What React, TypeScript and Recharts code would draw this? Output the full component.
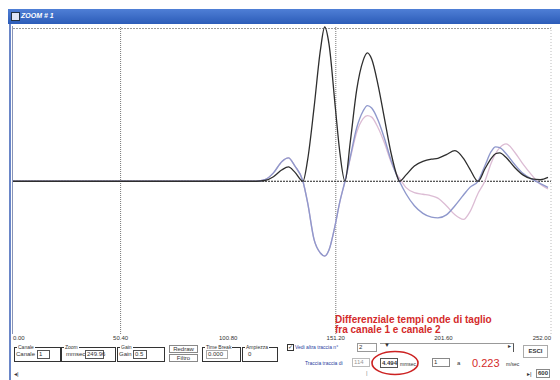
import React from 'react';
import { LineChart, Line, XAxis, YAxis, ReferenceLine } from 'recharts';

// time in ms, amplitudes in % of full scale
const time = [0, 100, 114, 118, 122, 126, 129, 132, 135.8, 138, 141, 144, 146, 148, 151, 153, 155.5, 158, 161, 164, 166, 168, 171, 174, 177, 180, 181, 184, 188, 192, 196, 199, 203, 207, 211, 214, 217.8, 221, 224, 226, 228, 231, 235, 239, 243, 247, 250.6];
const differenziale = [0, 0, 0, 0.5, 3, 7.5, 9.4, 6, 0, 14, 48, 86, 101, 90, 48, 20, 0, 26, 60, 79, 84, 80, 63, 41, 19, 3, 0, 4, 10, 13, 14.5, 15, 17.5, 20, 15, 8, 0, 8, 15, 18, 18.6, 15.5, 9, 4, 1.5, 1, 2.5];
const canale1 = [0, 0, 0, 1, 5.5, 13, 15.3, 10, 0, -14, -38, -47, -49, -45, -28, -14, 0, 16, 35, 46, 49.5, 48, 40, 28, 14, 3, 0, -8, -16, -21, -23.5, -24, -22, -16, -9, -4, 0, 10, 19.5, 22.5, 22, 18, 11, 5, 1.5, -1.5, -4];
const canale2 = [0, 0, 0, 1, 5.5, 13, 15.3, 10, 0, -14, -38, -47, -49, -45, -28, -14, 0, 15, 32, 41, 43, 42, 35, 25, 13, 4, 2, -4, -7.5, -8.5, -9.5, -11, -16, -22, -25, -20, -8, 0, 12, 18, 22, 24.5, 19, 11, 4, -2, -5];

const xTicks = [0, 50.4, 100.8, 151.2, 201.6, 252];
const cursori = [50.4, 151.2];

const data = time.map((t, i) => ({ t, diff: differenziale[i], c1: canale1[i], c2: canale2[i] }));

const font = '"Liberation Sans", Arial, sans-serif';

const XTick = ({ x, y, payload, index }: any) => {
  const anchor = index === 0 ? 'start' : index === xTicks.length - 1 ? 'end' : 'middle';
  return (
    <text x={x} y={y} dy={4} textAnchor={anchor} fontSize={6} fontFamily={font} fill="#333">
      {payload.value.toFixed(2)}
    </text>
  );
};

const T = ({ x, y, children, style }: any) => (
  <div style={{ position: 'absolute', left: x, top: y, fontSize: 6, fontFamily: font, color: '#333', whiteSpace: 'nowrap', lineHeight: '7px', ...style }}>
    {children}
  </div>
);

const Box = ({ x, y, w, h, children, style }: any) => (
  <div style={{ position: 'absolute', left: x, top: y, width: w, height: h, border: '1px solid #555', boxSizing: 'border-box', fontSize: 6, fontFamily: font, color: '#333', lineHeight: `${h - 2}px`, paddingLeft: 1, whiteSpace: 'nowrap', background: '#fff', ...style }}>
    {children}
  </div>
);

const Group = ({ x, y, w, h, label }: any) => (
  <>
    <div style={{ position: 'absolute', left: x, top: y, width: w, height: h, border: '1px solid #333', boxSizing: 'border-box' }} />
    <T x={x + 3} y={y - 3} style={{ background: '#fff', padding: '0 1px', fontSize: 5, lineHeight: '6px' }}>{label}</T>
  </>
);

export default function App() {
  return (
    <div style={{ position: 'absolute', left: 0, top: 0, width: 560, height: 380, background: '#fff', overflow: 'hidden' }}>
      <div style={{ position: 'absolute', left: 0, top: 0 }}>
        <LineChart width={560} height={380} data={data} margin={{ top: 27, right: 9, left: 13, bottom: 36 }}>
          <XAxis dataKey="t" type="number" domain={[0, 252]} ticks={xTicks} interval={0} axisLine={false} tickLine={false} tickSize={0} tickMargin={2} height={10} tick={<XTick />} />
          <YAxis hide domain={[-100, 100]} allowDataOverflow={false} />
          {cursori.map((c) => (
            <ReferenceLine key={c} x={c} stroke="#777" strokeDasharray="1 1" />
          ))}
          <ReferenceLine x={252} stroke="#bbb" strokeDasharray="1 2" />
          <ReferenceLine y={100} stroke="#999" strokeDasharray="2 1" />
          <ReferenceLine y={0} stroke="#222" strokeDasharray="2 1" />
          <Line type="monotone" dataKey="c2" stroke="#dcbcd4" strokeWidth={1.3} dot={false} isAnimationActive={false} />
          <Line type="monotone" dataKey="c1" stroke="#8f98cc" strokeWidth={1.4} dot={false} isAnimationActive={false} />
          <Line type="monotone" dataKey="diff" stroke="#2e2e2e" strokeWidth={1.3} dot={false} isAnimationActive={false} />
        </LineChart>
      </div>
      <div style={{ position: 'absolute', left: 12, top: 26, width: 1, height: 308, background: '#8894b8' }} />

      {/* title bar */}
      <div style={{ position: 'absolute', left: 8, top: 9, width: 552, height: 15, background: 'linear-gradient(to bottom, #4f7fd6, #2c5cb8)' }} />
      <div style={{ position: 'absolute', left: 11, top: 12, width: 7, height: 7, background: '#dfe6f5', border: '1px solid #234' }} />
      <T x={21} y={12} style={{ color: '#fff', fontStyle: 'italic', fontWeight: 'bold', fontSize: 7, lineHeight: '8px' }}>ZOOM # 1</T>
      {/* window border */}
      <div style={{ position: 'absolute', left: 9, top: 24, width: 2, height: 356, background: '#6a86c8' }} />

      {/* annotation */}
      <div style={{ position: 'absolute', left: 335, top: 315, color: '#d42a2a', fontFamily: font, fontWeight: 'bold', fontSize: 10, lineHeight: '10px' }}>
        Differenziale tempi onde di taglio<br />fra canale 1 e canale 2
      </div>

      {/* bottom controls */}
      <Group x={14} y={347} w={47} h={15} label="Canale" />
      <T x={16} y={351}>Canale</T>
      <Box x={37} y={350} w={13} h={9}>1</Box>
      <Group x={61} y={347} w={55} h={15} label="Zoom" />
      <T x={66} y={351}>mmsec</T>
      <Box x={85} y={350} w={19} h={9}>249.96</Box>
      <Group x={117} y={347} w={48} h={15} label="Gain" />
      <T x={119} y={351}>Gain</T>
      <Box x={133} y={350} w={14} h={9}>0.5</Box>
      <Box x={169} y={345} w={29} h={8} style={{ paddingLeft: 0, textAlign: 'center', borderColor: '#888' }}>Redraw</Box>
      <Box x={169} y={354} w={29} h={8} style={{ paddingLeft: 0, textAlign: 'center', borderColor: '#888' }}>Filtro</Box>
      <Group x={202} y={347} w={39} h={15} label="Time Break" />
      <Box x={206} y={350} w={22} h={9} style={{ borderColor: '#aaa' }}>0.000</Box>
      <Group x={242} y={347} w={36} h={15} label="Ampiezza" />
      <T x={248} y={351}>0</T>

      <div style={{ position: 'absolute', left: 287, top: 344, width: 5, height: 5, border: '1px solid #333', fontSize: 6, lineHeight: '5px', color: '#333', fontFamily: font }}>✓</div>
      <T x={295} y={344} style={{ color: '#2a40a0', fontSize: 5 }}>Vedi altra traccia n°</T>
      <Box x={357} y={343} w={20} h={9} style={{ borderColor: '#999' }}>2</Box>
      <div style={{ position: 'absolute', left: 380, top: 343, width: 133, height: 8, borderTop: '1px solid #999', borderRight: '1px solid #555' }} />
      <T x={384} y={342} style={{ fontSize: 6 }}>▼</T>
      <T x={508} y={343} style={{ fontSize: 6 }}>▸</T>
      <Box x={523} y={345} w={25} h={13} style={{ paddingLeft: 0, textAlign: 'center', fontWeight: 'bold', borderColor: '#aaa' }}>ESCI</Box>

      <T x={305} y={360} style={{ color: '#2a40a0', fontSize: 5 }}>Traccia traccia di</T>
      <Box x={352} y={358} w={18} h={9} style={{ borderColor: '#bbb', color: '#999' }}>114</Box>
      <Box x={380} y={358} w={18} h={10} style={{ fontWeight: 'bold' }}>4.494</Box>
      <T x={400} y={361} style={{ fontSize: 5 }}>mmsec</T>
      <Box x={432} y={358} w={18} h={9} style={{ borderColor: '#888' }}>1</Box>
      <T x={457} y={360}>a</T>
      <T x={472} y={357} style={{ color: '#d42a2a', fontSize: 11, lineHeight: '12px' }}>0.223</T>
      <T x={506} y={361} style={{ fontSize: 5 }}>m/sec</T>
      <svg style={{ position: 'absolute', left: 0, top: 0 }} width={560} height={380}>
        <ellipse cx={395} cy={363} rx={23} ry={11.5} fill="none" stroke="#cc2222" strokeWidth={1.6} />
      </svg>

      <T x={366} y={370} style={{ color: '#888' }}>|</T>
      <T x={14} y={371}>◂|</T>
      <T x={527} y={371}>▸|</T>
      <Box x={536} y={369} w={14} h={9} style={{ fontWeight: 'bold', borderColor: '#888' }}>600</Box>
    </div>
  );
}
